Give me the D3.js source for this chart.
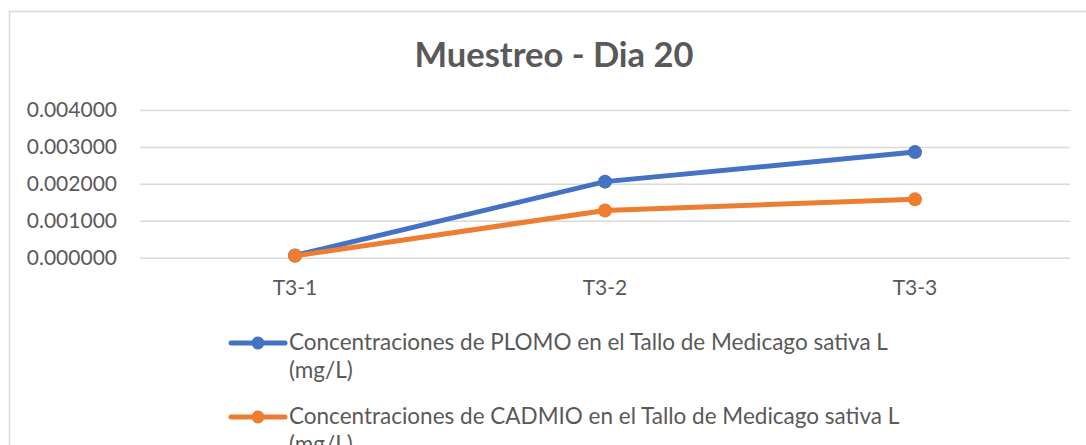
<!DOCTYPE html>
<html>
<head>
<meta charset="utf-8">
<script src="https://cdn.jsdelivr.net/npm/d3@7"></script>
<style>
  body { margin: 0; background: #fff; }
  svg text { font-family: Lato, "Open Sans", sans-serif; fill: #595959; }
</style>
</head>
<body>
<svg id="chart" width="1086" height="445"></svg>
<script>
// data
var categories = ["T3-1", "T3-2", "T3-3"];
var plomo = [0.00006, 0.00206, 0.00286];
var cadmio = [0.00005, 0.00128, 0.00158];
var yTicks = [0, 0.001, 0.002, 0.003, 0.004];
var seriesNames = [
	["Concentraciones de PLOMO en el Tallo de Medicago sativa L", "(mg/L)"],
	["Concentraciones de CADMIO en el Tallo de Medicago sativa L", "(mg/L)"]
];
var seriesColors = ["#4472C4", "#ED7D31"];

var svg = d3.select('#chart');

//Chart border (runs off the right and bottom)
svg.append('rect')
	.attr('x', 9.5)
	.attr('y', 11.5)
	.attr('width', 1200)
	.attr('height', 600)
	.attr('fill', 'none')
	.attr('stroke', '#d9d9d9')
	.attr('stroke-width', 1.5);

svg.append('text')
	.attr('x', 554)
	.attr('y', 67)
	.attr('text-anchor', 'middle')
	.style('font-size', '34.5px')
	.style('font-weight', 'bold')
	.text('Muestreo - Dia 20');

var x = d3.scaleBand()
	.domain(categories)
	.range([140, 1070]);

var y = d3.scaleLinear()
	.domain([0, 0.004])
	.range([257.7, 110]);

//Gridlines + y labels
var yAxis = d3.axisLeft(y)
	.tickValues(yTicks)
	.tickFormat(d3.format('.6f'))
	.tickSize(-930)
	.tickPadding(23);

var gy = svg.append('g')
	.attr('transform', 'translate(140,0)')
	.call(yAxis);
gy.select('.domain').remove();
gy.selectAll('line')
	.attr('stroke', '#d9d9d9')
	.attr('stroke-width', 1.5);
gy.selectAll('text')
	.style('font-size', '21px')
	.attr('fill', '#595959');

//x labels
var xAxis = d3.axisBottom(x).tickSize(0).tickPadding(22);
var gx = svg.append('g')
	.attr('transform', 'translate(0,257.7)')
	.call(xAxis);
gx.select('.domain').remove();
gx.selectAll('text')
	.style('font-size', '21px')
	.attr('fill', '#595959');

var line = d3.line()
	.x(function(d, i){ return x(categories[i]) + x.bandwidth() / 2; })
	.y(function(d){ return y(d); });

[plomo, cadmio].forEach(function(vals, k){
	var g = svg.append('g');
	g.append('path')
		.datum(vals)
		.attr('d', line)
		.attr('fill', 'none')
		.attr('stroke', seriesColors[k])
		.attr('stroke-width', 5)
		.attr('stroke-linejoin', 'round');
	g.selectAll('circle')
		.data(vals)
	  .enter()
		.append('circle')
		.attr('cx', function(d, i){ return x(categories[i]) + x.bandwidth() / 2; })
		.attr('cy', function(d){ return y(d); })
		.attr('r', 7)
		.attr('fill', seriesColors[k]);
});

//Legend
var legend = svg.append('g');
seriesNames.forEach(function(lines, k){
	var ly = 343 + k * 74;
	var item = legend.append('g').attr('transform', 'translate(0,' + ly + ')');
	item.append('line')
		.attr('x1', 231).attr('x2', 285)
		.attr('stroke', seriesColors[k])
		.attr('stroke-width', 5)
		.attr('stroke-linecap', 'round');
	item.append('circle')
		.attr('cx', 258)
		.attr('r', 6.5)
		.attr('fill', seriesColors[k]);
	var t = item.append('text')
		.attr('x', 289)
		.attr('y', 7)
		.style('font-size', '22.5px');
	lines.forEach(function(s, j){
		t.append('tspan')
			.attr('x', 289)
			.attr('dy', j === 0 ? 0 : 28)
			.text(s);
	});
});
</script>
</body>
</html>
